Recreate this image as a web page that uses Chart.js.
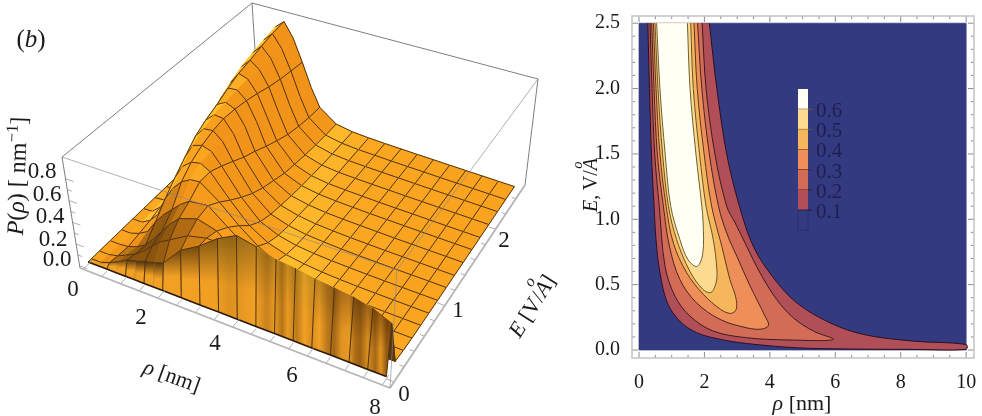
<!DOCTYPE html>
<html>
<head>
<meta charset="utf-8">
<script src="https://cdn.jsdelivr.net/npm/chart.js@4"></script>
<style>
  html, body { margin: 0; padding: 0; background: #fff; }
  #wrap { position: relative; width: 982px; height: 416px; overflow: hidden; font-family: 'Liberation Serif', serif; color: #1a1a1a; }
  canvas { position: absolute; top: 0; }
  .lbl { position: absolute; white-space: nowrap; line-height: 1; }
  .ang { position: relative; font-style: italic; }
  .ang span { position: absolute; left: .1em; top: -.62em; font-size: .72em; }
</style>
</head>
<body>
<div id="wrap">
  <canvas id="surfaceChart" width="575" height="416" style="left:0"></canvas>
  <canvas id="contourChart" width="407" height="416" style="left:575px"></canvas>
</div>
<script>
// ── Surface data (b): P(rho, E) ──────────────────────────────────
const RHO_COLS = [0, .25, .5, .75, 1, 1.25, 1.5, 1.75, 2, 2.5, 3, 3.5, 4, 4.5, 5, 5.5, 6, 6.5, 7, 7.5, 8];
const E_ROWS = [0, .05, .17, .33, .5, .67, .83, 1, 1.17, 1.33, 1.5, 1.67, 1.83, 2, 2.17, 2.33, 2.5];
const P_E000 = [0, 0, 0, 0, 0, 0, 0, 0, 0, 0, 0, 0, 0, 0, 0, 0, 0, 0, 0, 0, 0];
const P_E005 = [0, 0, .03, .07, .12, .14, .17, .19, .22, .40, .50, .63, .72, .68, .63, .61, .58, .56, .54, .50, .43];
const P_E017 = [0, 0, .02, .06, .10, .16, .24, .31, .36, .46, .50, .50, .42, .24, .12, .08, .05, .035, .025, .02, .02];
const P_E033 = [0, 0, .01, .04, .09, .18, .28, .38, .46, .52, .47, .32, .20, .12, .07, .04, .03, .02, .015, .012, .01];
const P_E050 = [0, 0, .03, .08, .20, .30, .38, .46, .52, .54, .40, .27, .17, .09, .055, .03, .02, .012, .008, .006, .005];
const P_E067 = [0, 0, .05, .14, .32, .45, .54, .59, .60, .47, .31, .18, .10, .06, .035, .02, .012, .008, .006, .005, .004];
const P_E083 = [0, .005, .08, .20, .42, .56, .63, .65, .60, .39, .21, .11, .06, .035, .02, .012, .008, .006, .005, .004, .003];
const P_E100 = [0, .01, .11, .27, .52, .66, .69, .66, .55, .31, .14, .07, .035, .02, .012, .008, .005, .004, .003, .003, .003];
const P_E117 = [0, .01, .15, .38, .62, .72, .73, .65, .49, .24, .10, .05, .025, .015, .008, .005, .004, .003, .003, .003, .002];
const P_E133 = [0, .01, .19, .47, .68, .76, .75, .63, .43, .19, .08, .04, .02, .012, .007, .005, .003, .003, .003, .002, .002];
const P_E150 = [0, .01, .24, .56, .73, .78, .74, .60, .38, .15, .06, .03, .015, .01, .007, .005, .003, .003, .002, .002, .002];
const P_E167 = [0, .015, .30, .65, .79, .80, .72, .54, .32, .11, .045, .02, .012, .008, .005, .004, .003, .003, .002, .002, .002];
const P_E183 = [0, .02, .36, .72, .84, .81, .69, .48, .27, .09, .035, .015, .01, .006, .004, .003, .003, .002, .002, .002, .002];
const P_E200 = [0, .03, .42, .78, .87, .80, .65, .42, .22, .07, .025, .01, .007, .005, .004, .003, .003, .002, .002, .002, .002];
const P_E217 = [0, .045, .46, .82, .91, .81, .62, .38, .19, .055, .02, .009, .006, .005, .004, .003, .002, .002, .002, .002, .002];
const P_E233 = [0, .06, .49, .85, .94, .81, .60, .36, .17, .045, .017, .008, .006, .004, .003, .003, .002, .002, .002, .002, .002];
const P_E250 = [0, .08, .52, .88, .96, .81, .58, .34, .16, .04, .015, .008, .005, .004, .003, .003, .002, .002, .002, .002, .002];
const P_ROWS = [P_E000, P_E005, P_E017, P_E033, P_E050, P_E067, P_E083, P_E100, P_E117, P_E133, P_E150, P_E167, P_E183, P_E200, P_E217, P_E233, P_E250];

const RHO_TICKS_3D = [0, .5, 1, 1.5, 2, 2.5, 3, 3.5, 4, 4.5, 5, 5.5, 6, 6.5, 7, 7.5, 8];
const E_TICKS_3D = [0, .2, .4, .6, .8, 1, 1.2, 1.4, 1.6, 1.8, 2, 2.2, 2.4];
const P_TICKS_3D = [0, .1, .2, .3, .4, .5, .6, .7, .8];

// ── Contour data: [rho, E] along each level line ─────────────────
const LEVELS = [.6, .5, .4, .3, .2, .1];
const C06 = [[.54,2.5],[.64,2],[.8,1.5],[.97,1.1],[1.25,.845],[1.5,.69],[1.78,.64],[1.95,.74],[1.96,.972],[1.92,1.1],[1.74,1.5],[1.56,2],[1.48,2.5]];
const C05 = [[.49,2.5],[.58,2],[.72,1.5],[.9,1.1],[1.15,.845],[1.56,.6],[1.95,.465],[2.2,.44],[2.36,.52],[2.38,.62],[2.27,.845],[2.05,1.1],[1.85,1.5],[1.66,2],[1.58,2.5]];
const C04 = [[.44,2.5],[.52,2],[.64,1.5],[.83,1.1],[1.05,.819],[1.46,.59],[1.97,.425],[2.5,.31],[2.8,.28],[2.97,.31],[2.96,.40],[2.78,.539],[2.53,.794],[2.22,1.1],[1.99,1.5],[1.78,2],[1.68,2.5]];
const C03 = [[.388,2.5],[.46,2],[.56,1.5],[.745,1.1],[.93,.794],[1.25,.539],[1.76,.361],[2.48,.234],[3.29,.17],[3.75,.16],[3.96,.19],[3.85,.26],[3.4,.488],[2.99,.717],[2.68,.895],[2.43,1.1],[2.15,1.5],[1.92,2],[1.79,2.5]];
const C02 = [[.337,2.5],[.398,2],[.48,1.5],[.62,1.1],[.795,.641],[1.1,.412],[1.56,.259],[2.27,.145],[3.29,.094],[4.72,.076],[5.94,.081],[5.33,.145],[4.72,.246],[4.21,.386],[3.7,.59],[3.29,.794],[2.94,.972],[2.68,1.1],[2.32,1.5],[2.05,2],[1.93,2.5]];
const C01 = [[.27,2.5],[.32,2],[.38,1.5],[.46,1.1],[.52,.845],[.64,.59],[.87,.36],[1.25,.22],[1.76,.133],[2.48,.082],[3.29,.05],[4.82,.017],[6.35,.008],[8.39,.005],[10,.005],[10,.043],[8.39,.068],[6.86,.119],[5.84,.208],[4.82,.361],[4.11,.552],[3.5,.79],[3.07,1.1],[2.68,1.5],[2.38,2],[2.15,2.5]];
const CONTOURS = [C06, C05, C04, C03, C02, C01];
const RHO_RANGE = [0, 10];
const E_RANGE = [0, 2.5];

const RHO_MAJOR = [0, 2, 4, 6, 8, 10];
const E_MAJOR = [0, .5, 1, 1.5, 2, 2.5];
const LEGEND_LABELS = ['0.6', '0.5', '0.4', '0.3', '0.2', '0.1'];

// ── Styles ───────────────────────────────────────────────────────
const BAND_COLORS = ['#fffff4', '#fcda90', '#f6b65c', '#ee8f5a', '#d26c56', '#b04f58'];
const LEVEL_LINE = ['#6d6030', '#6d5328', '#5c3a20', '#4a2420', '#3e1a20', '#2c1020'];
const NAVY = '#343a80';
const SERIF = "'Liberation Serif', serif";

// colour at the top of the front wall, per rho column
const WALL_TOP = ['#c98a20', '#b07a1c', '#8a5a14', '#6c4410', '#5a3a0e', '#523208', '#523208', '#5a3a0e', '#6c4410', '#74480f', '#845812', '#966a16', '#a07018', '#b07c1c', '#c88c20', '#d89c24', '#c08420', '#b0701a', '#a06414', '#985c10', '#8a5410'];
// dark vertical streaks on the front wall: [rho, opacity]
const WALL_STREAKS = [[0,0],[3.4,0],[3.8,.12],[4.5,0],[4.8,.25],[5,.05],[5.2,.35],[5.35,.05],[5.6,.3],[5.8,0],[6,.15],[6.2,0],[6.4,.3],[6.6,.45],[6.8,.1],[7,.05],[7.15,.4],[7.3,.5],[7.5,.15],[7.7,.45],[7.85,.1],[8,.55]];
// tone of the dark flank behind the wall, rows E .05 to .5, per rho column (null keeps the lit tone)
const FLANK_E005 = [null, .7, .5, .42, .38, .38, .38, .42, .5, .6, .7, null, null, null, null, null, null, null, null, .12];
const FLANK_E017 = [null, .75, .55, .42, .34, .32, .34, .4, .5, .62, .75, null, null, null, null, null, null, null, null, null];
const FLANK_E033 = [null, .85, .7, .5, .42, .4, .45, .55, .66, .75, .85, null, null, null, null, null, null, null, null, null];
const FLANK_E050 = [null, .88, .82, .68, .62, .62, .68, .75, .8, .85, null, null, null, null, null, null, null, null, null, null];
const FLANK_ROWS = [null, FLANK_E005, FLANK_E017, FLANK_E033, FLANK_E050];

// Box corners on screen: bottom and top faces, [rhoMin/Emin, rhoMax/Emin, rhoMax/Emax, rhoMin/Emax]
const BOX_BOT = [[80, 268], [390, 388], [525, 185], [258, 97]];
const BOX_TOP = [[62, 157], [397, 270], [538, 79], [252, 3]];
const RHO_LIM = [-.083, 8.21], E_LIM = [-.08, 2.58], P_LIM = [-.02, 1.0];

function lerp(a, b, t) { return a + (b - a) * t; }
function project(rho, E, P) {
  const u = (rho - RHO_LIM[0]) / (RHO_LIM[1] - RHO_LIM[0]);
  const v = (E - E_LIM[0]) / (E_LIM[1] - E_LIM[0]);
  const w = (P - P_LIM[0]) / (P_LIM[1] - P_LIM[0]);
  const bil = (c, k) => lerp(lerp(c[0][k], c[1][k], u), lerp(c[3][k], c[2][k], u), v);
  return { x: lerp(bil(BOX_BOT, 0), bil(BOX_TOP, 0), w), y: lerp(bil(BOX_BOT, 1), bil(BOX_TOP, 1), w) };
}

// plane faces about .88, slopes go deep orange / yellow, front faces brown
const SHADE_STOPS = [[0, [74, 42, 8]], [.35, [128, 78, 14]], [.7, [240, 146, 24]], [.88, [250, 163, 31]], [1, [255, 192, 46]]];
function shadeColor(t) {
  t = Math.max(0, Math.min(1, t));
  for (let i = 1; i < SHADE_STOPS.length; i++) {
    if (t <= SHADE_STOPS[i][0]) {
      const a = SHADE_STOPS[i - 1], b = SHADE_STOPS[i], f = (t - a[0]) / (b[0] - a[0]);
      return 'rgb(' + [0, 1, 2].map(k => Math.round(lerp(a[1][k], b[1][k], f))).join(',') + ')';
    }
  }
}
function quadShade(i, j) {
  const flank = FLANK_ROWS[i] ? FLANK_ROWS[i][j] : null;
  if (flank != null) return shadeColor(flank);
  const X = r => r / 8, Y = e => e / 2.5, Z = p => p * .55;
  const ax = X(RHO_COLS[j + 1]) - X(RHO_COLS[j]), by = Y(E_ROWS[i + 1]) - Y(E_ROWS[i]);
  const dzu = (Z(P_ROWS[i][j + 1]) + Z(P_ROWS[i + 1][j + 1]) - Z(P_ROWS[i][j]) - Z(P_ROWS[i + 1][j])) / 2;
  const dzv = (Z(P_ROWS[i + 1][j]) + Z(P_ROWS[i + 1][j + 1]) - Z(P_ROWS[i][j]) - Z(P_ROWS[i][j + 1])) / 2;
  let nx = -dzu / ax, ny = -dzv / by, nz = 1;
  const len = Math.hypot(nx, ny, nz);
  nx /= len; ny /= len;
  const foot = nx > 0 ? nx * Math.max(0, 1 - 2 * nx) : 0;   // yellow where the slope meets the plane
  return shadeColor(.88 - .18 * nx + foot + (ny < 0 ? .55 * ny * Math.abs(ny) : .1 * ny));
}

// ── Plugins ──────────────────────────────────────────────────────
const polygonFill = {
  id: 'polygonFill',
  beforeDatasetDraw(chart, args) {
    const ds = chart.data.datasets[args.index];
    if (!ds.polyFill) return;
    const ctx = chart.ctx, pts = args.meta.data;
    ctx.save();
    ctx.beginPath();
    if (ds.smooth) args.meta.dataset.path(ctx);
    else pts.forEach((p, i) => i ? ctx.lineTo(p.x, p.y) : ctx.moveTo(p.x, p.y));
    ctx.closePath();
    let fill = ds.polyFill;
    if (ds.wallTop) {
      fill = ctx.createLinearGradient(0, pts[0].y, 0, Math.min(pts[2].y, pts[3].y));
      fill.addColorStop(0, ds.polyFill);
      fill.addColorStop(.35, ds.polyFill);
      fill.addColorStop(1, ds.wallTop);
    }
    ctx.fillStyle = fill;
    ctx.fill();
    if (!ds.smooth) { ctx.strokeStyle = ds.wallTop ? ds.wallTop : fill; ctx.lineWidth = ds.wallTop ? .2 : .7; ctx.stroke(); }
    if (ds.wallTop) {
      const x0 = project(0, 0, 0).x, x1 = project(8, 0, 0).x;
      const streak = ctx.createLinearGradient(x0, 0, x1, 0);
      WALL_STREAKS.forEach(s => streak.addColorStop(s[0] / 8, 'rgba(70,35,5,' + s[1] + ')'));
      ctx.fillStyle = streak;
      ctx.fill();
    }
    ctx.restore();
  }
};

const frameTicks = {
  id: 'frameTicks',
  afterDraw(chart) {
    const { ctx, chartArea: a, scales: { x, y } } = chart;
    ctx.save();
    ctx.strokeStyle = '#8c8c8c';
    ctx.lineWidth = 1;
    ctx.beginPath();
    for (let i = 0; i <= 20; i++) {
      const v = i * .5, len = v % 2 === 0 ? 6 : 3, px = x.getPixelForValue(v);
      ctx.moveTo(px, a.bottom); ctx.lineTo(px, a.bottom - len);
      ctx.moveTo(px, a.top); ctx.lineTo(px, a.top + len);
    }
    for (let i = 0; i <= 25; i++) {
      const v = i * .1, len = i % 5 === 0 ? 6 : 3, py = y.getPixelForValue(v);
      ctx.moveTo(a.left, py); ctx.lineTo(a.left + len, py);
      ctx.moveTo(a.right, py); ctx.lineTo(a.right - len, py);
    }
    ctx.stroke();
    ctx.strokeStyle = '#c4c4c4';
    ctx.lineWidth = 1.5;
    ctx.strokeRect(a.left, a.top, a.right - a.left, a.bottom - a.top);
    // colour key inside the plot
    const kx = 223, kw = 10, ky = 89, kh = 20.2;
    BAND_COLORS.forEach((c, i) => {
      ctx.fillStyle = c;
      ctx.fillRect(kx, ky + i * kh, kw, kh);
      ctx.fillStyle = LEVEL_LINE[i];
      ctx.fillRect(kx, ky + (i + 1) * kh - .5, kw + 4, 1);
    });
    ctx.strokeStyle = '#2a2f6c';
    ctx.lineWidth = 1;
    ctx.strokeRect(kx, ky + 6 * kh, kw, kh);
    ctx.restore();
  }
};

// ── Surface panel ────────────────────────────────────────────────
function seg(a, b, color, width) {
  return { data: [a, b], borderColor: color, borderWidth: width, pointRadius: 0, fill: false, showLine: true };
}
function poly(points, color, width) {
  return { data: points, borderColor: color, borderWidth: width, pointRadius: 0, fill: false, showLine: true };
}

function renderSurface() {
  const sets = [];
  const BOX = '#7e7e7e', FAINT = 'rgba(135,135,135,.65)', AXIS = '#b4b4b4', MESH = '#4f3210';
  const [A, B, C, D] = BOX_BOT, [At, Bt, Ct, Dt] = BOX_TOP;
  const pt = p => ({ x: p[0], y: p[1] });

  // nearest first: Chart.js paints the first dataset last
  sets.push(seg(pt(At), pt(Bt), FAINT, 1), seg(pt(Ct), pt(Bt), FAINT, 1), seg(pt(Bt), pt(B), FAINT, 1));
  sets.push(seg(pt(A), pt(B), AXIS, 1.8), seg(pt(B), pt(C), AXIS, 1.8), seg(pt(A), pt(At), BOX, 1), seg(pt(C), pt(Ct), BOX, 1));
  RHO_TICKS_3D.forEach(r => sets.push(seg(project(r, E_LIM[0], P_LIM[0]), project(r, r % 2 === 0 ? .05 : 0, P_LIM[0]), '#999', .8)));
  E_TICKS_3D.forEach((e, i) => sets.push(seg(project(RHO_LIM[1], e, P_LIM[0]), project(i % 5 === 0 ? 8 : 8.08, e, P_LIM[0]), '#999', .8)));
  P_TICKS_3D.forEach((p, i) => sets.push(seg(project(RHO_LIM[0], E_LIM[0], p), project(i % 2 === 0 ? .12 : .03, E_LIM[0], p), '#999', .8)));

  const rowPts = (i, j) => project(RHO_COLS[j], E_ROWS[i], P_ROWS[i][j]);
  const onMeshCol = j => RHO_COLS[j] % .5 === 0;
  const onMeshRow = (i, j) => i >= 2 || (i === 1 && RHO_COLS[j] < 4.5);
  const nr = E_ROWS.length, nc = RHO_COLS.length;

  sets.push(poly(RHO_COLS.map((_, j) => rowPts(0, j)), '#2b1a06', 1.6));
  for (let i = 0; i < nr - 1; i++) {
    for (let j = nc - 2; j >= 0; j--) {
      if (j === nc - 2 && onMeshCol(j + 1)) sets.push(seg(rowPts(i, j + 1), rowPts(i + 1, j + 1), MESH, 1));
      if (onMeshRow(i + 1, j)) sets.push(seg(rowPts(i + 1, j), rowPts(i + 1, j + 1), MESH, 1));
      if (onMeshCol(j)) sets.push(seg(rowPts(i, j), rowPts(i + 1, j), MESH, 1));
      sets.push({
        data: [rowPts(i, j), rowPts(i, j + 1), rowPts(i + 1, j + 1), rowPts(i + 1, j)],
        polyFill: i === 0 ? '#f2a024' : quadShade(i, j),
        wallTop: i === 0 ? WALL_TOP[j] : null,
        borderWidth: 0, pointRadius: 0, showLine: false
      });
    }
  }
  // back of the box, behind everything
  sets.push(seg(pt(At), pt(Dt), BOX, 1), seg(pt(Dt), pt(Ct), BOX, 1), seg(pt(Dt), pt(D), BOX, 1));

  new Chart(document.getElementById('surfaceChart'), {
    type: 'scatter',
    data: { datasets: sets },
    plugins: [polygonFill],
    options: {
      responsive: false, animation: false, events: [],
      layout: { padding: 0 },
      plugins: { legend: { display: false }, tooltip: { enabled: false } },
      scales: {
        x: { display: false, min: 0, max: 575 },
        y: { display: false, min: 0, max: 416, reverse: true }
      }
    }
  });
}

// ── Contour panel ────────────────────────────────────────────────
function renderContour() {
  const sets = CONTOURS.map((c, i) => ({
    data: c.map(p => ({ x: p[0], y: p[1] })),
    polyFill: BAND_COLORS[i], smooth: true,
    borderColor: LEVEL_LINE[i], borderWidth: 1, tension: .35,
    pointRadius: 0, showLine: true, fill: false
  }));
  sets.push({
    data: [{ x: RHO_RANGE[0], y: E_RANGE[0] }, { x: RHO_RANGE[1], y: E_RANGE[0] }, { x: RHO_RANGE[1], y: E_RANGE[1] }, { x: RHO_RANGE[0], y: E_RANGE[1] }],
    polyFill: NAVY, borderWidth: 0, pointRadius: 0, showLine: false
  });

  new Chart(document.getElementById('contourChart'), {
    type: 'scatter',
    data: { datasets: sets },
    plugins: [polygonFill, frameTicks],
    options: {
      responsive: false, animation: false, events: [],
      layout: { padding: { top: 15.5, right: 8, left: 0, bottom: 0 } },
      plugins: { legend: { display: false }, tooltip: { enabled: false } },
      scales: {
        x: {
          min: -.214, max: 10.24,
          afterBuildTicks: s => { s.ticks = RHO_MAJOR.map(value => ({ value })); },
          afterFit: s => { s.height = 58; },
          grid: { display: false }, border: { display: false },
          ticks: { color: '#1a1a1a', font: { family: SERIF, size: 20 }, padding: 5, maxRotation: 0, autoSkip: false, callback: v => String(v) }
        },
        y: {
          min: -.061, max: 2.555,
          afterBuildTicks: s => { s.ticks = E_MAJOR.map(value => ({ value })); },
          afterFit: s => { s.width = 57; },
          grid: { display: false }, border: { display: false },
          ticks: { color: '#1a1a1a', font: { family: SERIF, size: 20 }, padding: 4, autoSkip: false, callback: v => v.toFixed(1) }
        }
      }
    }
  });
}

// ── Text laid over the canvases ──────────────────────────────────
function label(html, x, y, size, rot, color) {
  const el = document.createElement('div');
  el.className = 'lbl';
  el.innerHTML = html;
  el.style.left = x + 'px';
  el.style.top = y + 'px';
  el.style.fontSize = size + 'px';
  if (color) el.style.color = color;
  el.style.transform = 'translate(-50%,-50%) rotate(' + (rot || 0) + 'deg)';
  document.getElementById('wrap').appendChild(el);
}

renderSurface();
renderContour();

label('(<i>b</i>)', 31, 38, 25);
label('<i>P</i>(<i>ρ</i>) [ nm<sup style="font-size:.7em;line-height:0">−1</sup>]', 17, 176, 24, -88);
label('<i>ρ</i> [nm]', 172, 376, 22, 20);
label('<i>E</i> [V/<span class="ang">A<span>o</span></span>]', 532, 306, 22, -58);
label('<i>E</i>, V/<span class="ang">A<span>o</span></span>', 590, 185, 20, -90);
label('<i>ρ</i> [nm]', 802, 403, 22);

[['0', 73, 288], ['2', 141, 316], ['4', 215, 342], ['6', 292, 374], ['8', 375, 406]].forEach(t => label(t[0], t[1], t[2], 23));
[['0', 404, 393], ['1', 458, 309], ['2', 504, 239]].forEach(t => label(t[0], t[1], t[2], 23));
[['0.0', 57, 258], ['0.2', 53, 238], ['0.4', 50, 215], ['0.6', 47, 193], ['0.8', 42, 170]].forEach(t => label(t[0], t[1], t[2], 23));
LEGEND_LABELS.forEach((t, i) => label(t, 829, 110 + i * 20.2, 21, 0, '#1c2050'));
</script>
</body>
</html>
